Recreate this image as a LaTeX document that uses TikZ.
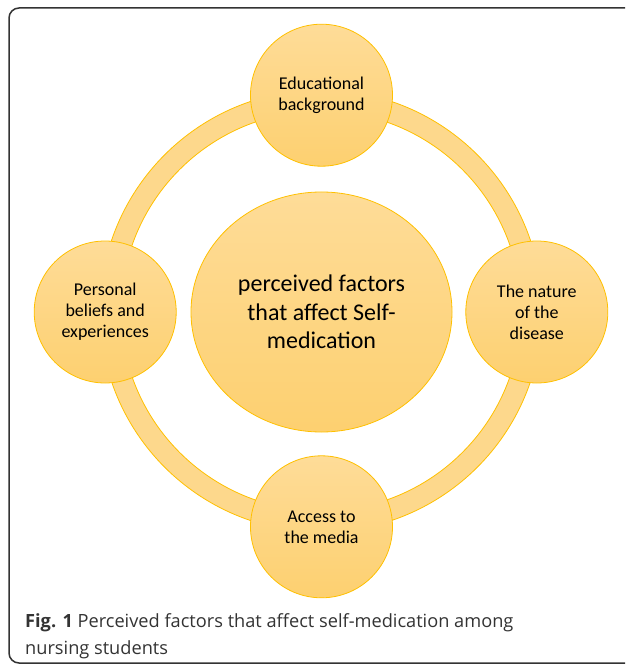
\documentclass[tikz,border=0pt]{standalone}
\usepackage{fontspec}
\setmainfont{Carlito}
\newfontfamily\capfont{Open Sans}
\usepackage{xcolor}
\usepackage{tikz}
\usetikzlibrary{positioning,shapes.geometric}

\definecolor{goldline}{HTML}{FFC000}
\definecolor{goldtop}{HTML}{FEDC98}
\definecolor{goldbot}{HTML}{FDD070}
\definecolor{ringfill}{HTML}{FDD88C}

\begin{document}
\begin{tikzpicture}[x=1pt, y=-1pt,
		factor/.style={circle, draw=goldline, line width=0.8pt, top color=goldtop, bottom color=goldbot,
			minimum size=142pt, inner sep=0pt, align=center, font=\fontsize{18}{21}\selectfont},
		mainnode/.style={ellipse, draw=goldline, line width=0.8pt, top color=goldtop, bottom color=goldbot,
			minimum width=261pt, minimum height=240pt, inner sep=0pt, align=center, font=\fontsize{24}{28.5}\selectfont},
		caption/.style={anchor=north west, align=left, inner sep=0pt, text=black!80,
			font=\capfont\fontsize{18.2}{27}\selectfont},
	]

		\useasboundingbox (0,0) rectangle (625,668);
		\clip (0,0) rectangle (625,668);

		% frame
		\draw[black!80, line width=1.5pt, rounded corners=10pt] (9,8) rectangle (640,663);

		% ring
		\draw[goldline, line width=0.8pt, fill=ringfill, even odd rule]
			(321,311) circle [radius=221] (321,311) circle [radius=200];

		% nodes
		\node[mainnode]	(main)	at (321.5,312)				{perceived factors\\that affect Self-\\medication};
		\node[factor]	(edu)	[above=25pt of main]		{Educational\\background};
		\node[factor]	(media)	[below=23pt of main]		{Access to\\the media};
		\node[factor]	(belief)	[left=14pt of main]		{Personal\\beliefs and\\experiences};
		\node[factor]	(disease)	[right=13pt of main]	{The nature\\of the\\disease};

		% caption
		\node[caption]	(cap)	at (25,613)	{{\bfseries Fig. 1} Perceived factors that affect self-medication among\\nursing students};

	\end{tikzpicture}
\end{document}
